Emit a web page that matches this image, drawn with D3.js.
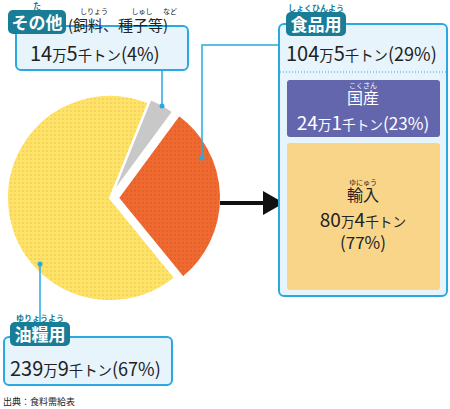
<!DOCTYPE html><html><head><meta charset="utf-8"><script src="https://cdn.jsdelivr.net/npm/d3@7"></script>
<style>body{margin:0;background:#fff}text{font-family:"Noto Sans CJK JP",sans-serif}</style></head><body><svg width="450" height="409"></svg>
<script>
const categories=["その他","食品用","油糧用"];
const values=[4,29,67];
const foodParts=["国産","輸入"];
const foodValues=[23,77];
const svg=d3.select("svg");
const defs=svg.append("defs");
function pat(id,bg,dot){const p=defs.append("pattern").attr("id",id).attr("width",4).attr("height",4).attr("patternUnits","userSpaceOnUse");
p.append("rect").attr("width",4).attr("height",4).attr("fill",bg);p.append("circle").attr("cx",1).attr("cy",1).attr("r",0.7).attr("fill",dot);}
pat("py","#fde36a","#f0b93a");pat("po","#ee6a30","#d9501c");
const fills=["#c8c8c8","url(#po)","url(#py)"];
const pie=d3.pie().sort(null).startAngle(22/180*Math.PI).endAngle(22/180*Math.PI+2*Math.PI)(values);
const arc=d3.arc().innerRadius(0).outerRadius(103);
const cx=110,cy=198,offs=[4,8,0];
pie.forEach((d,i)=>{const m=(d.startAngle+d.endAngle)/2;
svg.append("path").attr("d",arc(d)).attr("fill",fills[i]).attr("stroke","#fff").attr("stroke-width",2)
.attr("transform",`translate(${cx+offs[i]*Math.sin(m)},${cy-offs[i]*Math.cos(m)})`);});
const lc="#29a9e0";
svg.append("polyline").attr("points","162,106 162,70").attr("fill","none").attr("stroke",lc).attr("stroke-width",1.5);
svg.append("polyline").attr("points","202,158 202,45 280,45").attr("fill","none").attr("stroke",lc).attr("stroke-width",1.5);
svg.append("polyline").attr("points","40,264 40,322").attr("fill","none").attr("stroke",lc).attr("stroke-width",1.5);
[[162,106],[202,158],[40,264]].forEach(p=>svg.append("circle").attr("cx",p[0]).attr("cy",p[1]).attr("r",2.5).attr("fill",lc));
svg.append("line").attr("x1",220).attr("y1",203).attr("x2",266).attr("y2",203).attr("stroke","#111").attr("stroke-width",4);
svg.append("path").attr("d","M263,191 L284,203 L263,215 Z").attr("fill","#111");
function box(x,y,w,h){svg.append("rect").attr("x",x).attr("y",y).attr("width",w).attr("height",h).attr("rx",5).attr("fill","#e8f4fb").attr("stroke",lc).attr("stroke-width",2);}
function tab(x,y,w,t,ruby){svg.append("rect").attr("x",x).attr("y",y).attr("width",w).attr("height",24).attr("rx",5).attr("fill","#1a7d98");
svg.append("text").attr("x",x+w/2).attr("y",y+19).attr("text-anchor","middle").attr("fill","#fff").attr("font-size",17).attr("font-weight","bold").text(t);
svg.append("text").attr("x",x+w/2).attr("y",y-1).attr("text-anchor","middle").attr("fill","#1a7d98").attr("font-size",8).attr("font-weight","bold").text(ruby);}
function amount(x,y,a,b,p,size,col,anchor){const t=svg.append("text").attr("x",x).attr("y",y).attr("font-size",size).attr("fill",col).attr("text-anchor",anchor||"start");
t.append("tspan").text(a);t.append("tspan").attr("font-size",size*0.72).text("万");t.append("tspan").text(b);t.append("tspan").attr("font-size",size*0.72).text("千トン");
if(p!==null)t.append("tspan").attr("font-size",size*0.9).text("("+p+"%)");return t;}
// その他
box(16,26,172,44);tab(8,10,58,"その他","た");
svg.append("text").attr("x",68).attr("y",31).attr("font-size",15).attr("fill","#222").text("(飼料、種子等)");
[["しりょう",94],["しゅし",142],["など",170]].forEach(r=>svg.append("text").attr("x",r[1]).attr("y",14).attr("text-anchor","middle").attr("font-size",7).attr("fill","#222").text(r[0]));
amount(30,61,"14","5","4",20,"#222");
// 食品用
box(279,24,168,272);tab(286,12,60,"食品用","しょくひんよう");
amount(286,61,"104","5","29",20,"#222");
svg.append("line").attr("x1",280).attr("x2",446).attr("y1",72).attr("y2",72).attr("stroke",lc).attr("stroke-dasharray","1,2");
const ys=d3.scaleLinear().domain([0,100]).range([18.7,185.4]);
let yy=80;const cols=["#6466ad","#f9d58a"],tc=["#fff","#222"],rub=["こくさん","ゆにゅう"];
foodParts.forEach((n,i)=>{const h=ys(foodValues[i]);
svg.append("rect").attr("x",287).attr("y",yy).attr("width",153).attr("height",h).attr("rx",3).attr("fill",cols[i]);
const mid=i==0?yy:yy+h/2-40;
svg.append("text").attr("x",363).attr("y",mid+8).attr("text-anchor","middle").attr("font-size",7).attr("fill",tc[i]).text(rub[i]);
svg.append("text").attr("x",363).attr("y",mid+24).attr("text-anchor","middle").attr("font-size",16).attr("fill",tc[i]).text(n);
if(i==0){amount(363,mid+50,"24","1",foodValues[i],19,tc[i],"middle");}
else{amount(363,mid+50,"80","4",null,19,tc[i],"middle");
svg.append("text").attr("x",363).attr("y",mid+72).attr("text-anchor","middle").attr("font-size",17).attr("fill",tc[i]).text("(77%)");}
yy+=h+6;});
// 油糧用
box(4,337,168,48);tab(10,322,60,"油糧用","ゆりょうよう");
amount(10,376,"239","9","67",20,"#222");
svg.append("text").attr("x",3).attr("y",405).attr("font-size",9).attr("fill","#222").text("出典：食料需給表");
</script></body></html>
